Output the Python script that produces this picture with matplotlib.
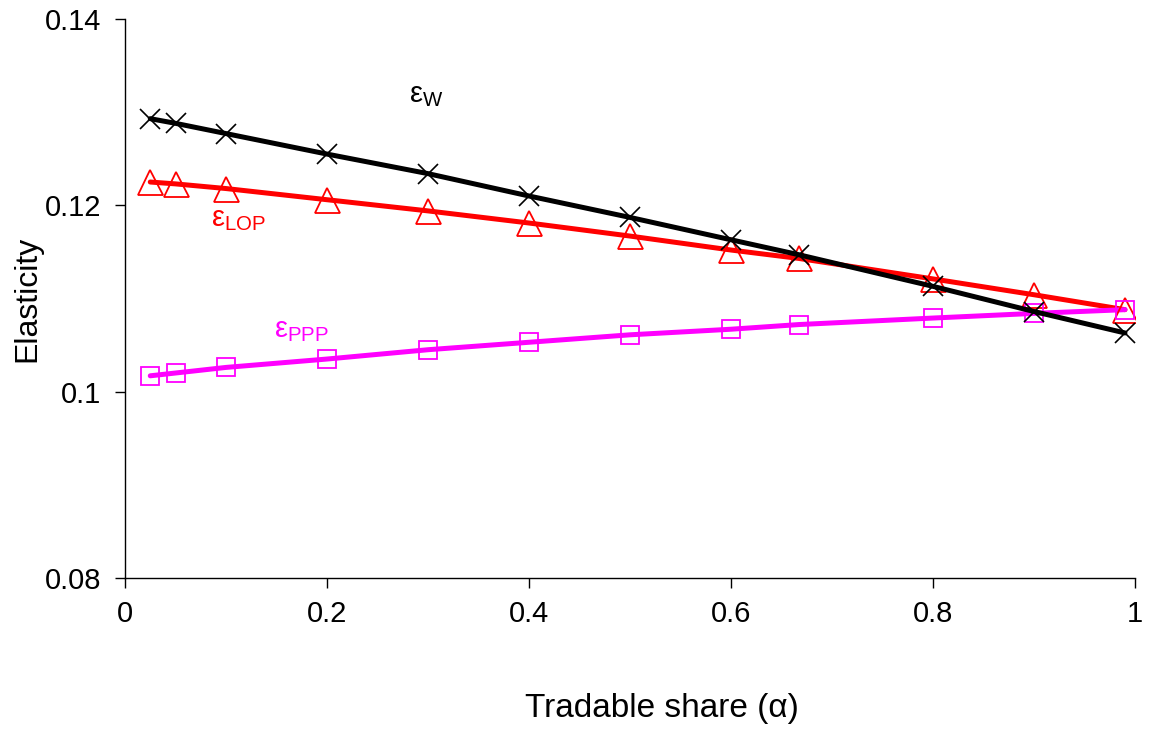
import matplotlib
matplotlib.use("Agg")
import matplotlib.pyplot as plt
from matplotlib.ticker import FuncFormatter

plt.rcParams['font.family'] = ['Liberation Sans', 'DejaVu Sans']
plt.rcParams['mathtext.fontset'] = 'custom'
plt.rcParams['mathtext.rm'] = 'Liberation Sans'
plt.rcParams['mathtext.it'] = 'Liberation Sans'

# tradable share alpha
alpha = [0.025, 0.05, 0.1, 0.2, 0.3, 0.4, 0.5, 0.6, 0.667, 0.8, 0.9, 0.99]

# elasticities
eps_w = [0.1293, 0.1288, 0.1277, 0.1255, 0.1234, 0.1210, 0.1187, 0.1163, 0.1147, 0.1113, 0.1086, 0.1063]
eps_lop = [0.1225, 0.1223, 0.1218, 0.1206, 0.1194, 0.1181, 0.1167, 0.1152, 0.1143, 0.1121, 0.1104, 0.1088]
eps_ppp = [0.1017, 0.1020, 0.1026, 0.1035, 0.1045, 0.1053, 0.1061, 0.1067, 0.1072, 0.1079, 0.1084, 0.1088]

xticks = [0, 0.2, 0.4, 0.6, 0.8, 1]
yticks = [0.08, 0.1, 0.12, 0.14]

fig = plt.figure(figsize=(11.5, 7.33), dpi=100)
ax = fig.add_axes([0.1087, 0.2115, 0.8783, 0.7626])

ax.plot(alpha, eps_lop, color='#FF0000', lw=3.6, solid_capstyle='round', zorder=2)
ax.plot(alpha, eps_lop, ls='none', marker='^', ms=18, mfc='none', mec='#FF0000', mew=1.3, zorder=3)
ax.plot(alpha, eps_ppp, color='#FF00FF', lw=3.6, solid_capstyle='round', zorder=2)
ax.plot(alpha, eps_ppp, ls='none', marker='s', ms=13, mfc='none', mec='#FF00FF', mew=1.3, zorder=3)
ax.plot(alpha, eps_w, color='black', lw=3.6, solid_capstyle='round', zorder=4)
ax.plot(alpha, eps_w, ls='none', marker='x', ms=14.5, mec='black', mew=1.2, zorder=5)

ax.text(0.281, 0.1318, r'$\mathrm{ε}_{\mathrm{W}}$', fontsize=21, color='black', va='center')
ax.text(0.085, 0.1185, r'$\mathrm{ε}_{\mathrm{LOP}}$', fontsize=21, color='#FF0000', va='center')
ax.text(0.148, 0.1066, r'$\mathrm{ε}_{\mathrm{PPP}}$', fontsize=21, color='#FF00FF', va='center')

ax.set_xlim(0, 1)
ax.set_ylim(0.08, 0.14)
ax.set_xticks(xticks)
ax.set_yticks(yticks)
fmt = FuncFormatter(lambda v, p: '%g' % round(v, 4))
ax.xaxis.set_major_formatter(fmt)
ax.yaxis.set_major_formatter(fmt)

for s in ['top', 'right']:
    ax.spines[s].set_visible(False)
for s in ['left', 'bottom']:
    ax.spines[s].set_linewidth(1.0)
    ax.spines[s].set_color('black')

ax.tick_params(axis='both', direction='out', length=7, width=1, labelsize=21)
ax.tick_params(axis='y', pad=10)
ax.tick_params(axis='x', pad=9)

ax.set_xlabel('Tradable share (α)', fontsize=24)
ax.xaxis.set_label_coords(0.532, -0.205)
ax.set_ylabel('Elasticity', fontsize=23, labelpad=2)

fig.savefig('out.png', dpi=100)
